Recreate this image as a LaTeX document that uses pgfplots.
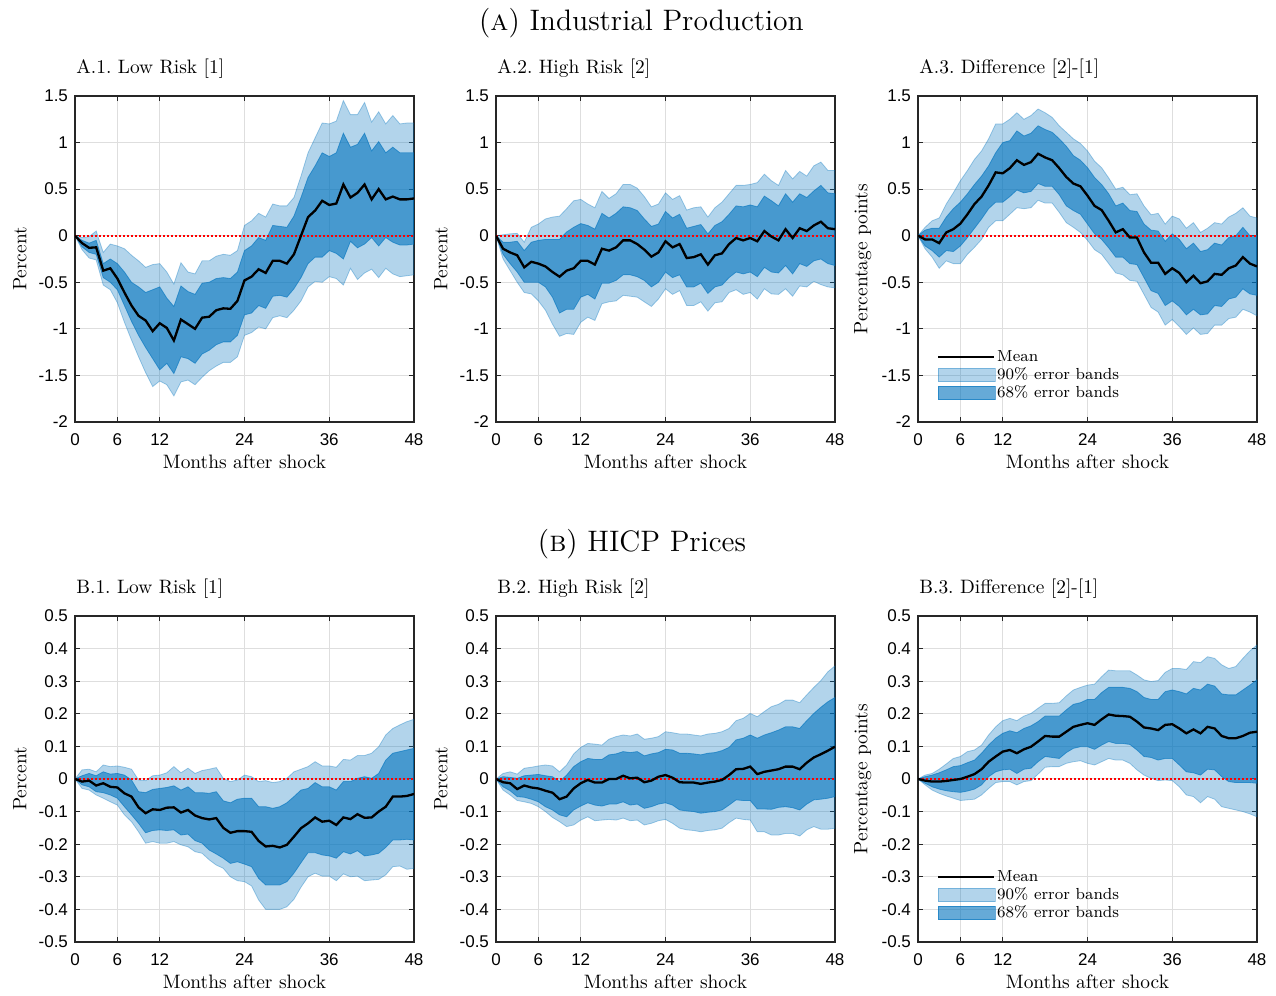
\documentclass[border=0pt]{standalone}
\usepackage{fontspec}
\usepackage{pgfplots}
\usepgfplotslibrary{fillbetween}
\pgfplotsset{compat=1.18}
\newfontfamily\tickfamily{Liberation Sans}
\newcommand\tickfont{\tickfamily\fontsize{8.5}{10}\selectfont}
\newcommand\labfont{\fontsize{9.7}{11.6}\selectfont}
\definecolor{mblue}{rgb}{0,0.447,0.741}
\definecolor{axgray}{rgb}{0.15,0.15,0.15}

% columns: month, mean, 68% upper/lower, 90% upper/lower
\pgfplotstableread{
m mean u68 l68 u90 l90
0 0 0 0 0 0
1 -0.08 -0.05 -0.12 -0.02 -0.15
2 -0.13 -0.08 -0.18 -0.01 -0.24
3 -0.125 -0.05 -0.20 0.05 -0.26
4 -0.375 -0.30 -0.45 -0.18 -0.53
5 -0.35 -0.25 -0.50 -0.09 -0.58
6 -0.46 -0.30 -0.58 -0.11 -0.72
7 -0.61 -0.39 -0.75 -0.14 -0.93
8 -0.75 -0.50 -0.92 -0.21 -1.12
9 -0.86 -0.55 -1.07 -0.27 -1.30
10 -0.91 -0.61 -1.20 -0.34 -1.47
11 -1.025 -0.58 -1.32 -0.31 -1.62
12 -0.94 -0.55 -1.44 -0.30 -1.56
13 -0.99 -0.67 -1.37 -0.39 -1.60
14 -1.125 -0.76 -1.48 -0.52 -1.72
15 -0.90 -0.54 -1.30 -0.29 -1.57
16 -0.95 -0.60 -1.32 -0.39 -1.55
17 -1.00 -0.63 -1.37 -0.41 -1.60
18 -0.88 -0.51 -1.27 -0.27 -1.52
19 -0.87 -0.50 -1.23 -0.27 -1.45
20 -0.80 -0.46 -1.17 -0.22 -1.40
21 -0.78 -0.45 -1.14 -0.20 -1.36
22 -0.785 -0.46 -1.14 -0.21 -1.36
23 -0.70 -0.39 -1.07 -0.16 -1.30
24 -0.48 -0.16 -0.85 0.11 -1.07
25 -0.44 -0.11 -0.83 0.16 -1.04
26 -0.36 -0.02 -0.75 0.24 -0.98
27 -0.40 -0.05 -0.78 0.20 -1.00
28 -0.27 0.11 -0.65 0.34 -0.88
29 -0.27 0.10 -0.64 0.32 -0.86
30 -0.30 0.09 -0.66 0.32 -0.88
31 -0.20 0.21 -0.57 0.41 -0.80
32 0.00 0.41 -0.45 0.64 -0.70
33 0.20 0.625 -0.30 0.89 -0.55
34 0.27 0.75 -0.23 1.05 -0.49
35 0.375 0.89 -0.23 1.21 -0.50
36 0.33 0.85 -0.16 1.20 -0.44
37 0.345 0.89 -0.19 1.23 -0.46
38 0.55 1.10 -0.25 1.45 -0.53
39 0.41 0.95 -0.06 1.30 -0.35
40 0.46 0.98 -0.13 1.30 -0.47
41 0.55 1.10 -0.09 1.43 -0.40
42 0.39 0.91 -0.02 1.22 -0.36
43 0.50 1.01 -0.11 1.33 -0.45
44 0.39 0.89 -0.02 1.20 -0.35
45 0.42 0.95 -0.07 1.29 -0.41
46 0.39 0.89 -0.10 1.20 -0.44
47 0.39 0.89 -0.10 1.21 -0.43
48 0.40 0.89 -0.09 1.21 -0.42
}\tabAa

\pgfplotstableread{
m mean u68 l68 u90 l90
0 0 0 0 0 0
1 -0.14 -0.07 -0.20 0.01 -0.25
2 -0.18 -0.07 -0.30 0.02 -0.375
3 -0.21 -0.06 -0.39 0.025 -0.50
4 -0.34 -0.16 -0.50 -0.07 -0.61
5 -0.28 -0.07 -0.50 0.09 -0.625
6 -0.30 -0.05 -0.50 0.125 -0.70
7 -0.33 -0.04 -0.55 0.18 -0.80
8 -0.39 -0.04 -0.66 0.20 -0.95
9 -0.44 -0.04 -0.83 0.21 -1.08
10 -0.375 0.04 -0.79 0.29 -1.05
11 -0.35 0.09 -0.79 0.375 -1.06
12 -0.27 0.13 -0.66 0.39 -0.93
13 -0.27 0.11 -0.63 0.34 -0.875
14 -0.31 0.07 -0.68 0.30 -0.91
15 -0.14 0.24 -0.51 0.475 -0.73
16 -0.16 0.19 -0.51 0.40 -0.71
17 -0.125 0.24 -0.48 0.45 -0.70
18 -0.05 0.31 -0.42 0.55 -0.64
19 -0.05 0.30 -0.42 0.55 -0.65
20 -0.09 0.27 -0.44 0.51 -0.66
21 -0.15 0.18 -0.48 0.42 -0.71
22 -0.225 0.10 -0.55 0.31 -0.76
23 -0.18 0.125 -0.50 0.34 -0.68
24 -0.06 0.26 -0.39 0.46 -0.57
25 -0.125 0.19 -0.45 0.39 -0.63
26 -0.09 0.23 -0.42 0.43 -0.59
27 -0.24 0.08 -0.55 0.275 -0.75
28 -0.23 0.10 -0.55 0.30 -0.75
29 -0.20 0.12 -0.51 0.31 -0.71
30 -0.31 0.02 -0.62 0.20 -0.81
31 -0.21 0.11 -0.55 0.30 -0.72
32 -0.19 0.15 -0.53 0.36 -0.71
33 -0.09 0.23 -0.45 0.45 -0.61
34 -0.025 0.32 -0.39 0.54 -0.58
35 -0.05 0.31 -0.41 0.54 -0.63
36 -0.025 0.33 -0.39 0.55 -0.61
37 -0.06 0.31 -0.44 0.57 -0.68
38 0.05 0.425 -0.34 0.66 -0.57
39 -0.01 0.375 -0.39 0.59 -0.625
40 -0.05 0.32 -0.40 0.54 -0.63
41 0.07 0.45 -0.32 0.70 -0.57
42 -0.025 0.36 -0.41 0.61 -0.65
43 0.08 0.45 -0.30 0.69 -0.54
44 0.05 0.41 -0.33 0.64 -0.55
45 0.11 0.48 -0.27 0.75 -0.49
46 0.15 0.54 -0.25 0.79 -0.525
47 0.08 0.46 -0.30 0.70 -0.55
48 0.07 0.45 -0.32 0.70 -0.56
}\tabAb

\pgfplotstableread{
m mean u68 l68 u90 l90
0 0 0 0 0 0
1 -0.04 0.06 -0.11 0.09 -0.14
2 -0.04 0.08 -0.16 0.16 -0.23
3 -0.08 0.08 -0.23 0.19 -0.35
4 0.035 0.20 -0.16 0.34 -0.27
5 0.07 0.29 -0.17 0.46 -0.30
6 0.13 0.36 -0.11 0.59 -0.30
7 0.23 0.45 -0.02 0.70 -0.20
8 0.34 0.55 0.08 0.82 -0.125
9 0.42 0.64 0.18 0.91 -0.04
10 0.54 0.75 0.29 1.04 0.09
11 0.68 0.89 0.36 1.20 0.16
12 0.67 1.00 0.36 1.20 0.16
13 0.725 1.02 0.42 1.25 0.23
14 0.81 1.125 0.49 1.32 0.30
15 0.76 1.07 0.46 1.25 0.29
16 0.79 1.10 0.475 1.29 0.30
17 0.88 1.18 0.56 1.36 0.38
18 0.84 1.14 0.53 1.32 0.35
19 0.81 1.11 0.53 1.27 0.35
20 0.725 1.04 0.44 1.18 0.25
21 0.63 0.96 0.32 1.11 0.14
22 0.56 0.86 0.27 1.04 0.09
23 0.53 0.81 0.23 0.99 0.035
24 0.43 0.73 0.125 0.91 -0.05
25 0.32 0.625 0.02 0.80 -0.15
26 0.275 0.55 -0.04 0.73 -0.20
27 0.16 0.45 -0.13 0.62 -0.30
28 0.035 0.32 -0.23 0.50 -0.40
29 0.07 0.35 -0.23 0.52 -0.42
30 -0.02 0.27 -0.30 0.44 -0.48
31 -0.02 0.26 -0.31 0.45 -0.49
32 -0.18 0.125 -0.45 0.32 -0.63
33 -0.29 0.06 -0.59 0.225 -0.77
34 -0.29 0.05 -0.62 0.24 -0.82
35 -0.41 -0.06 -0.75 0.125 -0.96
36 -0.35 0.02 -0.70 0.21 -0.90
37 -0.40 -0.04 -0.76 0.18 -0.975
38 -0.50 -0.14 -0.85 0.08 -1.06
39 -0.43 -0.08 -0.79 0.14 -0.99
40 -0.51 -0.17 -0.85 0.035 -1.06
41 -0.49 -0.15 -0.84 0.08 -1.05
42 -0.41 -0.08 -0.75 0.14 -0.96
43 -0.42 -0.10 -0.76 0.125 -0.96
44 -0.35 -0.02 -0.68 0.20 -0.89
45 -0.32 0.00 -0.66 0.24 -0.875
46 -0.23 0.09 -0.57 0.30 -0.79
47 -0.30 0.00 -0.625 0.21 -0.82
48 -0.33 0.00 -0.64 0.19 -0.86
}\tabAc

\pgfplotstableread{
m mean u68 l68 u90 l90
0 0 0 0 0 0
1 -0.008 0.01 -0.018 0.028 -0.029
2 -0.005 0.017 -0.024 0.03 -0.034
3 -0.02 0.01 -0.039 0.022 -0.049
4 -0.013 0.022 -0.042 0.043 -0.059
5 -0.024 0.015 -0.049 0.038 -0.07
6 -0.026 0.017 -0.059 0.04 -0.08
7 -0.044 0.012 -0.085 0.036 -0.11
8 -0.054 -0.003 -0.11 0.03 -0.131
9 -0.087 -0.039 -0.136 -0.003 -0.162
10 -0.105 -0.042 -0.165 -0.005 -0.197
11 -0.093 -0.032 -0.158 0.01 -0.192
12 -0.095 -0.029 -0.156 0.012 -0.197
13 -0.088 -0.026 -0.158 0.019 -0.197
14 -0.087 -0.021 -0.156 0.038 -0.192
15 -0.103 -0.034 -0.172 0.019 -0.202
16 -0.095 -0.024 -0.169 0.033 -0.208
17 -0.112 -0.042 -0.189 0.017 -0.223
18 -0.12 -0.042 -0.197 0.026 -0.228
19 -0.124 -0.044 -0.218 0.03 -0.248
20 -0.12 -0.039 -0.23 0.035 -0.264
21 -0.15 -0.067 -0.243 0.002 -0.274
22 -0.165 -0.073 -0.259 -0.008 -0.30
23 -0.16 -0.062 -0.254 -0.003 -0.312
24 -0.16 -0.059 -0.261 0.012 -0.315
25 -0.162 -0.059 -0.269 0.007 -0.328
26 -0.19 -0.085 -0.305 -0.008 -0.371
27 -0.207 -0.085 -0.325 -0.005 -0.40
28 -0.205 -0.09 -0.325 -0.011 -0.40
29 -0.21 -0.085 -0.325 -0.008 -0.40
30 -0.202 -0.073 -0.315 0.002 -0.392
31 -0.177 -0.054 -0.289 0.022 -0.369
32 -0.151 -0.034 -0.257 0.03 -0.332
33 -0.136 -0.029 -0.226 0.038 -0.30
34 -0.118 -0.011 -0.226 0.053 -0.289
35 -0.131 -0.024 -0.233 0.04 -0.298
36 -0.128 -0.024 -0.236 0.04 -0.298
37 -0.141 -0.034 -0.243 0.036 -0.312
38 -0.118 -0.008 -0.223 0.06 -0.291
39 -0.123 -0.008 -0.23 0.058 -0.30
40 -0.108 0.002 -0.22 0.072 -0.298
41 -0.119 0.007 -0.236 0.072 -0.312
42 -0.118 0.002 -0.233 0.079 -0.31
43 -0.10 0.017 -0.228 0.099 -0.308
44 -0.085 0.058 -0.21 0.135 -0.294
45 -0.054 0.079 -0.187 0.155 -0.269
46 -0.054 0.084 -0.187 0.166 -0.267
47 -0.052 0.089 -0.185 0.176 -0.277
48 -0.046 0.094 -0.187 0.183 -0.274
}\tabBa

\pgfplotstableread{
m mean u68 l68 u90 l90
0 0 0 0 0 0
1 -0.01 0.007 -0.024 0.017 -0.034
2 -0.013 0.005 -0.036 0.022 -0.049
3 -0.031 0.002 -0.054 0.015 -0.066
4 -0.02 0.01 -0.056 0.033 -0.07
5 -0.026 0.012 -0.062 0.036 -0.075
6 -0.029 0.014 -0.07 0.04 -0.085
7 -0.036 0.01 -0.085 0.043 -0.10
8 -0.042 0.007 -0.095 0.04 -0.118
9 -0.062 -0.008 -0.11 0.022 -0.131
10 -0.054 0.012 -0.116 0.043 -0.146
11 -0.029 0.038 -0.095 0.077 -0.141
12 -0.013 0.053 -0.083 0.097 -0.126
13 -0.003 0.063 -0.073 0.109 -0.116
14 -0.011 0.06 -0.08 0.107 -0.128
15 -0.011 0.06 -0.083 0.104 -0.126
16 0 0.074 -0.077 0.122 -0.124
17 0 0.077 -0.077 0.13 -0.126
18 0.01 0.084 -0.07 0.135 -0.12
19 0.002 0.081 -0.08 0.132 -0.128
20 0.004 0.084 -0.077 0.138 -0.126
21 -0.01 0.071 -0.09 0.122 -0.141
22 -0.005 0.077 -0.085 0.125 -0.136
23 0.007 0.081 -0.077 0.13 -0.128
24 0.012 0.091 -0.073 0.145 -0.124
25 0.004 0.089 -0.08 0.142 -0.136
26 -0.01 0.079 -0.095 0.138 -0.151
27 -0.011 0.079 -0.098 0.138 -0.156
28 -0.011 0.077 -0.10 0.135 -0.158
29 -0.015 0.074 -0.105 0.132 -0.162
30 -0.011 0.079 -0.102 0.138 -0.158
31 -0.008 0.081 -0.10 0.14 -0.156
32 -0.003 0.087 -0.095 0.145 -0.151
33 0.012 0.097 -0.08 0.155 -0.134
34 0.03 0.12 -0.064 0.179 -0.12
35 0.031 0.125 -0.066 0.186 -0.124
36 0.038 0.135 -0.066 0.201 -0.126
37 0.015 0.125 -0.092 0.191 -0.162
38 0.022 0.135 -0.092 0.207 -0.162
39 0.026 0.142 -0.093 0.222 -0.172
40 0.03 0.15 -0.087 0.229 -0.172
41 0.038 0.16 -0.085 0.242 -0.167
42 0.038 0.16 -0.088 0.242 -0.167
43 0.03 0.155 -0.095 0.234 -0.175
44 0.05 0.179 -0.077 0.258 -0.156
45 0.066 0.201 -0.064 0.281 -0.146
46 0.076 0.22 -0.062 0.302 -0.154
47 0.087 0.237 -0.059 0.329 -0.154
48 0.099 0.25 -0.054 0.347 -0.151
}\tabBb

\pgfplotstableread{
m mean u68 l68 u90 l90
0 0 0 0 0 0
1 -0.005 0.007 -0.013 0.012 -0.018
2 -0.008 0.012 -0.024 0.017 -0.034
3 -0.008 0.019 -0.031 0.03 -0.044
4 -0.006 0.028 -0.036 0.046 -0.052
5 -0.003 0.038 -0.039 0.063 -0.059
6 0 0.041 -0.041 0.069 -0.066
7 0.007 0.05 -0.037 0.084 -0.064
8 0.015 0.058 -0.031 0.089 -0.062
9 0.03 0.079 -0.018 0.104 -0.049
10 0.053 0.104 0.007 0.135 -0.029
11 0.069 0.125 0.022 0.16 -0.011
12 0.084 0.14 0.028 0.179 -0.008
13 0.089 0.148 0.03 0.186 -0.008
14 0.079 0.142 0.017 0.179 -0.018
15 0.091 0.155 0.03 0.193 -0.008
16 0.099 0.163 0.033 0.201 -0.005
17 0.115 0.176 0.053 0.217 0.015
18 0.132 0.193 0.069 0.232 0.036
19 0.13 0.193 0.066 0.232 0.038
20 0.13 0.193 0.063 0.234 0.038
21 0.145 0.212 0.081 0.255 0.048
22 0.16 0.229 0.094 0.273 0.053
23 0.166 0.234 0.099 0.281 0.056
24 0.171 0.244 0.099 0.288 0.048
25 0.166 0.244 0.091 0.291 0.043
26 0.183 0.265 0.104 0.314 0.053
27 0.198 0.281 0.115 0.334 0.063
28 0.194 0.281 0.109 0.332 0.058
29 0.193 0.281 0.109 0.332 0.058
30 0.191 0.278 0.106 0.332 0.048
31 0.176 0.268 0.089 0.319 0.028
32 0.158 0.25 0.069 0.304 0.012
33 0.155 0.244 0.066 0.299 0.002
34 0.15 0.244 0.058 0.302 -0.005
35 0.166 0.268 0.063 0.327 -0.003
36 0.168 0.273 0.063 0.339 -0.005
37 0.155 0.268 0.043 0.339 -0.024
38 0.14 0.261 0.022 0.336 -0.049
39 0.152 0.278 0.019 0.36 -0.054
40 0.14 0.273 0.012 0.357 -0.073
41 0.16 0.291 0.03 0.375 -0.054
42 0.155 0.285 0.028 0.37 -0.062
43 0.132 0.261 0.007 0.35 -0.085
44 0.125 0.258 -0.008 0.339 -0.09
45 0.125 0.258 -0.011 0.345 -0.095
46 0.132 0.273 -0.011 0.37 -0.10
47 0.142 0.288 -0.011 0.393 -0.107
48 0.145 0.304 -0.013 0.411 -0.116
}\tabBc

\pgfplotsset{
  lightband/.style={fill=mblue, fill opacity=0.3, draw=mblue, draw opacity=0.35, line width=0.4pt},
  darkband/.style={fill=mblue, fill opacity=0.6, draw=mblue, draw opacity=0.6, line width=0.4pt},
  meanline/.style={black, line width=1.15pt},
  zeroline/.style={red, line width=0.85pt, dash pattern=on 1pt off 1pt},
  leglinecode/.style={legend image code/.code={\draw[##1] (0pt,0pt) -- (28pt,0pt);}},
  legareacode/.style={legend image code/.code={\draw[##1] (0pt,-3.4pt) rectangle (28.5pt,3.4pt);}},
  irf/.style={
    scale only axis, width=169.5pt, height=163pt,
    xmin=0, xmax=48, xtick={0,6,12,24,36,48}, xticklabels={0,6,12,24,36,48},
    grid=major, major grid style={line width=0.5pt, color=black!13},
    axis line style={line width=0.6pt, color=axgray},
    major tick style={line width=0.5pt, color=axgray}, major tick length=2.5pt,
    tick align=inside,
    ticklabel style={font=\tickfont},
    xticklabel style={yshift=-2.5pt},
    xlabel={Months after shock},
    label style={font=\labfont},
    xlabel style={at={(axis description cs:0.5,-0.123)}, anchor=center},
    ylabel style={at={(axis description cs:-0.163,0.5)}, anchor=center},
    every axis title shift=0pt,
    title style={at={(axis description cs:0,1.0675)}, anchor=base west, font=\labfont, inner sep=0pt, xshift=0.5pt},
    legend style={at={(axis description cs:0.055,0.06)}, anchor=south west, draw=none, fill=none,
      font=\fontsize{8}{9.6}\selectfont, inner sep=0pt, row sep=0pt, nodes={inner sep=0.8pt}},
    legend cell align=left,
  },
  toprow/.style={ymin=-2, ymax=1.5, ytick={-2,-1.5,-1,-0.5,0,0.5,1,1.5},
    yticklabels={-2,-1.5,-1,-0.5,0,0.5,1,1.5}},
  botrow/.style={ymin=-0.5, ymax=0.5, ytick={-0.5,-0.4,-0.3,-0.2,-0.1,0,0.1,0.2,0.3,0.4,0.5},
    yticklabels={-0.5,-0.4,-0.3,-0.2,-0.1,0,0.1,0.2,0.3,0.4,0.5}},
}

\newcommand{\bands}[1]{%
  \addplot[name path=u90, draw=none, forget plot] table[x=m, y=u90] {#1};
  \addplot[name path=l90, draw=none, forget plot] table[x=m, y=l90] {#1};
  \addplot[name path=u68, draw=none, forget plot] table[x=m, y=u68] {#1};
  \addplot[name path=l68, draw=none, forget plot] table[x=m, y=l68] {#1};
  \addplot[lightband, forget plot] fill between[of=u90 and l90];
  \addplot[darkband, forget plot] fill between[of=u68 and l68];
  \addplot[zeroline, forget plot] coordinates {(0,0) (48,0)};
  \addplot[meanline, forget plot] table[x=m, y=mean] {#1};
}

\begin{document}
\begin{tikzpicture}

\node[anchor=base, font=\fontsize{14.8}{17.5}\selectfont] at (320.75pt,480.5pt) {(\textsc{a}) Industrial Production};
\node[anchor=base, font=\fontsize{14.8}{17.5}\selectfont] at (321pt,220pt) {(\textsc{b}) HICP Prices};

% ---- row A ----
\begin{axis}[irf, toprow, at={(37.5pt,285pt)}, anchor=south west,
  title={A.1.\ Low Risk [1]}, ylabel={Percent}]
\bands{\tabAa}
\end{axis}

\begin{axis}[irf, toprow, at={(248pt,285pt)}, anchor=south west,
  title={A.2.\ High Risk [2]}, ylabel={Percent}]
\bands{\tabAb}
\end{axis}

\begin{axis}[irf, toprow, at={(459pt,285pt)}, anchor=south west,
  title={A.3.\ Difference [2]-[1]}, ylabel={Percentage points}]
\bands{\tabAc}
\addlegendimage{leglinecode, meanline}
\addlegendentry{Mean}
\addlegendimage{legareacode, lightband}
\addlegendentry{90\% error bands}
\addlegendimage{legareacode, darkband}
\addlegendentry{68\% error bands}
\end{axis}

% ---- row B ----
\begin{axis}[irf, botrow, at={(37.5pt,25pt)}, anchor=south west,
  title={B.1.\ Low Risk [1]}, ylabel={Percent}]
\bands{\tabBa}
\end{axis}

\begin{axis}[irf, botrow, at={(248pt,25pt)}, anchor=south west,
  title={B.2.\ High Risk [2]}, ylabel={Percent}]
\bands{\tabBb}
\end{axis}

\begin{axis}[irf, botrow, at={(459pt,25pt)}, anchor=south west,
  title={B.3.\ Difference [2]-[1]}, ylabel={Percentage points}]
\bands{\tabBc}
\addlegendimage{leglinecode, meanline}
\addlegendentry{Mean}
\addlegendimage{legareacode, lightband}
\addlegendentry{90\% error bands}
\addlegendimage{legareacode, darkband}
\addlegendentry{68\% error bands}
\end{axis}

\path (0,0) rectangle (638pt,496pt);
\end{tikzpicture}
\end{document}
